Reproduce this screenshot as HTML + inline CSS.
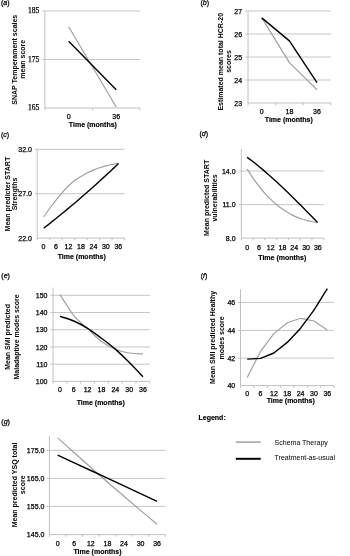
<!DOCTYPE html>
<html><head><meta charset="utf-8"><style>
html,body{margin:0;padding:0;background:#fff;width:350px;height:556px;overflow:hidden}
svg{display:block;filter:blur(0.3px)} text[font-weight="normal"]{stroke:#000;stroke-width:0.25px} text[font-weight="bold"][x]:not([transform]){stroke:#000;stroke-width:0.15px}
</style></head><body>
<svg width="350" height="556" viewBox="0 0 350 556">
<rect width="350" height="556" fill="#fff"/>
<text x="1.00" y="5.20" text-anchor="start" font-family="Liberation Sans" font-weight="normal" font-size="7" font-style="normal" fill="#000">(<tspan font-style="italic">a</tspan>)</text>
<line x1="44.90" y1="11.00" x2="44.90" y2="108.00" stroke="#c0c0c0" stroke-width="1"/>
<line x1="44.90" y1="11.00" x2="140.00" y2="11.00" stroke="#c6c6c6" stroke-width="1"/>
<line x1="42.40" y1="11.00" x2="44.90" y2="11.00" stroke="#c0c0c0" stroke-width="1"/>
<line x1="44.90" y1="59.50" x2="140.00" y2="59.50" stroke="#c6c6c6" stroke-width="1"/>
<line x1="42.40" y1="59.50" x2="44.90" y2="59.50" stroke="#c0c0c0" stroke-width="1"/>
<line x1="44.90" y1="108.00" x2="140.00" y2="108.00" stroke="#c0c0c0" stroke-width="1"/>
<line x1="44.90" y1="108.00" x2="44.90" y2="110.20" stroke="#c0c0c0" stroke-width="1"/>
<line x1="92.45" y1="108.00" x2="92.45" y2="110.20" stroke="#c0c0c0" stroke-width="1"/>
<line x1="140.00" y1="108.00" x2="140.00" y2="110.20" stroke="#c0c0c0" stroke-width="1"/>
<text x="39.30" y="13.30" text-anchor="end" font-family="Liberation Serif" font-weight="normal" font-size="7.5" font-style="normal" fill="#000">185</text>
<text x="39.30" y="61.80" text-anchor="end" font-family="Liberation Serif" font-weight="normal" font-size="7.5" font-style="normal" fill="#000">175</text>
<text x="39.30" y="110.30" text-anchor="end" font-family="Liberation Serif" font-weight="normal" font-size="7.5" font-style="normal" fill="#000">165</text>
<text x="68.67" y="118.80" text-anchor="middle" font-family="Liberation Sans" font-weight="normal" font-size="7" font-style="normal" fill="#000">0</text>
<text x="116.22" y="118.80" text-anchor="middle" font-family="Liberation Sans" font-weight="normal" font-size="7" font-style="normal" fill="#000">36</text>
<text x="92.90" y="127.10" text-anchor="middle" font-family="Liberation Sans" font-weight="bold" font-size="7" font-style="normal" fill="#000">Time (months)</text>
<text transform="translate(16.72,59.75) rotate(-90)" x="0" y="0" text-anchor="middle" font-family="Liberation Sans" font-weight="bold" font-size="7" fill="#000">SNAP Temperament scales</text>
<text transform="translate(25.22,59.25) rotate(-90)" x="0" y="0" text-anchor="middle" font-family="Liberation Sans" font-weight="bold" font-size="7" fill="#000">mean score</text>
<path d="M68.67,26.70 L116.22,107.00" fill="none" stroke="#a0a0a0" stroke-width="1.2" stroke-linejoin="round" stroke-linecap="butt"/>
<path d="M68.67,41.30 L116.22,89.70" fill="none" stroke="#000000" stroke-width="1.4" stroke-linejoin="round" stroke-linecap="butt"/>
<text x="200.50" y="5.00" text-anchor="start" font-family="Liberation Sans" font-weight="normal" font-size="7" font-style="normal" fill="#000">(<tspan font-style="italic">b</tspan>)</text>
<line x1="248.00" y1="11.00" x2="248.00" y2="103.00" stroke="#c0c0c0" stroke-width="1"/>
<line x1="248.00" y1="11.00" x2="330.80" y2="11.00" stroke="#c6c6c6" stroke-width="1"/>
<line x1="245.50" y1="11.00" x2="248.00" y2="11.00" stroke="#c0c0c0" stroke-width="1"/>
<line x1="248.00" y1="34.00" x2="330.80" y2="34.00" stroke="#c6c6c6" stroke-width="1"/>
<line x1="245.50" y1="34.00" x2="248.00" y2="34.00" stroke="#c0c0c0" stroke-width="1"/>
<line x1="248.00" y1="57.00" x2="330.80" y2="57.00" stroke="#c6c6c6" stroke-width="1"/>
<line x1="245.50" y1="57.00" x2="248.00" y2="57.00" stroke="#c0c0c0" stroke-width="1"/>
<line x1="248.00" y1="80.00" x2="330.80" y2="80.00" stroke="#c6c6c6" stroke-width="1"/>
<line x1="245.50" y1="80.00" x2="248.00" y2="80.00" stroke="#c0c0c0" stroke-width="1"/>
<line x1="248.00" y1="103.00" x2="330.80" y2="103.00" stroke="#c0c0c0" stroke-width="1"/>
<line x1="248.00" y1="103.00" x2="248.00" y2="105.20" stroke="#c0c0c0" stroke-width="1"/>
<line x1="275.60" y1="103.00" x2="275.60" y2="105.20" stroke="#c0c0c0" stroke-width="1"/>
<line x1="303.20" y1="103.00" x2="303.20" y2="105.20" stroke="#c0c0c0" stroke-width="1"/>
<line x1="330.80" y1="103.00" x2="330.80" y2="105.20" stroke="#c0c0c0" stroke-width="1"/>
<text x="242.10" y="13.50" text-anchor="end" font-family="Liberation Sans" font-weight="normal" font-size="7" font-style="normal" fill="#000">27</text>
<text x="242.10" y="36.50" text-anchor="end" font-family="Liberation Sans" font-weight="normal" font-size="7" font-style="normal" fill="#000">26</text>
<text x="242.10" y="59.50" text-anchor="end" font-family="Liberation Sans" font-weight="normal" font-size="7" font-style="normal" fill="#000">25</text>
<text x="242.10" y="82.50" text-anchor="end" font-family="Liberation Sans" font-weight="normal" font-size="7" font-style="normal" fill="#000">24</text>
<text x="242.10" y="105.50" text-anchor="end" font-family="Liberation Sans" font-weight="normal" font-size="7" font-style="normal" fill="#000">23</text>
<text x="261.80" y="113.50" text-anchor="middle" font-family="Liberation Sans" font-weight="normal" font-size="7" font-style="normal" fill="#000">0</text>
<text x="289.40" y="113.50" text-anchor="middle" font-family="Liberation Sans" font-weight="normal" font-size="7" font-style="normal" fill="#000">18</text>
<text x="317.00" y="113.50" text-anchor="middle" font-family="Liberation Sans" font-weight="normal" font-size="7" font-style="normal" fill="#000">36</text>
<text x="288.80" y="121.50" text-anchor="middle" font-family="Liberation Sans" font-weight="bold" font-size="7" font-style="normal" fill="#000">Time (months)</text>
<text transform="translate(223.42,61.80) rotate(-90)" x="0" y="0" text-anchor="middle" font-family="Liberation Sans" font-weight="bold" font-size="7" fill="#000">Estimated mean total HCR-20</text>
<text transform="translate(230.92,61.50) rotate(-90)" x="0" y="0" text-anchor="middle" font-family="Liberation Sans" font-weight="bold" font-size="7" fill="#000">scores</text>
<path d="M261.80,17.90 L289.40,62.60 L317.00,89.80" fill="none" stroke="#a0a0a0" stroke-width="1.2" stroke-linejoin="round" stroke-linecap="butt"/>
<path d="M261.80,17.90 L289.40,40.90 L317.00,82.70" fill="none" stroke="#000000" stroke-width="1.4" stroke-linejoin="round" stroke-linecap="butt"/>
<text x="1.00" y="136.50" text-anchor="start" font-family="Liberation Sans" font-weight="normal" font-size="7" font-style="normal" fill="#000">(<tspan font-style="italic">c</tspan>)</text>
<line x1="37.20" y1="149.30" x2="37.20" y2="238.10" stroke="#c0c0c0" stroke-width="1"/>
<line x1="37.20" y1="149.30" x2="124.60" y2="149.30" stroke="#c6c6c6" stroke-width="1"/>
<line x1="34.70" y1="149.30" x2="37.20" y2="149.30" stroke="#c0c0c0" stroke-width="1"/>
<line x1="37.20" y1="193.70" x2="124.60" y2="193.70" stroke="#c6c6c6" stroke-width="1"/>
<line x1="34.70" y1="193.70" x2="37.20" y2="193.70" stroke="#c0c0c0" stroke-width="1"/>
<line x1="37.20" y1="238.10" x2="124.60" y2="238.10" stroke="#c0c0c0" stroke-width="1"/>
<line x1="37.20" y1="238.10" x2="37.20" y2="240.30" stroke="#c0c0c0" stroke-width="1"/>
<line x1="49.69" y1="238.10" x2="49.69" y2="240.30" stroke="#c0c0c0" stroke-width="1"/>
<line x1="62.17" y1="238.10" x2="62.17" y2="240.30" stroke="#c0c0c0" stroke-width="1"/>
<line x1="74.66" y1="238.10" x2="74.66" y2="240.30" stroke="#c0c0c0" stroke-width="1"/>
<line x1="87.14" y1="238.10" x2="87.14" y2="240.30" stroke="#c0c0c0" stroke-width="1"/>
<line x1="99.63" y1="238.10" x2="99.63" y2="240.30" stroke="#c0c0c0" stroke-width="1"/>
<line x1="112.11" y1="238.10" x2="112.11" y2="240.30" stroke="#c0c0c0" stroke-width="1"/>
<line x1="124.60" y1="238.10" x2="124.60" y2="240.30" stroke="#c0c0c0" stroke-width="1"/>
<text x="31.90" y="151.80" text-anchor="end" font-family="Liberation Sans" font-weight="normal" font-size="7" font-style="normal" fill="#000">32.0</text>
<text x="31.90" y="196.20" text-anchor="end" font-family="Liberation Sans" font-weight="normal" font-size="7" font-style="normal" fill="#000">27.0</text>
<text x="31.90" y="240.60" text-anchor="end" font-family="Liberation Sans" font-weight="normal" font-size="7" font-style="normal" fill="#000">22.0</text>
<text x="43.44" y="248.50" text-anchor="middle" font-family="Liberation Sans" font-weight="normal" font-size="7" font-style="normal" fill="#000">0</text>
<text x="55.93" y="248.50" text-anchor="middle" font-family="Liberation Sans" font-weight="normal" font-size="7" font-style="normal" fill="#000">6</text>
<text x="68.41" y="248.50" text-anchor="middle" font-family="Liberation Sans" font-weight="normal" font-size="7" font-style="normal" fill="#000">12</text>
<text x="80.90" y="248.50" text-anchor="middle" font-family="Liberation Sans" font-weight="normal" font-size="7" font-style="normal" fill="#000">18</text>
<text x="93.39" y="248.50" text-anchor="middle" font-family="Liberation Sans" font-weight="normal" font-size="7" font-style="normal" fill="#000">24</text>
<text x="105.87" y="248.50" text-anchor="middle" font-family="Liberation Sans" font-weight="normal" font-size="7" font-style="normal" fill="#000">30</text>
<text x="118.36" y="248.50" text-anchor="middle" font-family="Liberation Sans" font-weight="normal" font-size="7" font-style="normal" fill="#000">36</text>
<text x="81.70" y="259.40" text-anchor="middle" font-family="Liberation Sans" font-weight="bold" font-size="7" font-style="normal" fill="#000">Time (months)</text>
<text transform="translate(9.72,194.10) rotate(-90)" x="0" y="0" text-anchor="middle" font-family="Liberation Sans" font-weight="bold" font-size="7" fill="#000">Mean predicter START</text>
<text transform="translate(16.62,194.00) rotate(-90)" x="0" y="0" text-anchor="middle" font-family="Liberation Sans" font-weight="bold" font-size="7" fill="#000">Strengths</text>
<path d="M43.70,216.80 C44.75,215.33 47.97,210.75 50.00,208.00 C52.03,205.25 53.90,202.83 55.90,200.30 C57.90,197.77 59.92,195.18 62.00,192.80 C64.08,190.42 66.30,188.03 68.40,186.00 C70.50,183.97 72.52,182.18 74.60,180.60 C76.68,179.02 78.83,177.77 80.90,176.50 C82.97,175.23 84.92,174.07 87.00,173.00 C89.08,171.93 91.30,170.97 93.40,170.10 C95.50,169.23 97.52,168.52 99.60,167.80 C101.68,167.08 103.83,166.35 105.90,165.80 C107.97,165.25 109.90,164.88 112.00,164.50 C114.10,164.12 117.42,163.67 118.50,163.50" fill="none" stroke="#a0a0a0" stroke-width="1.2" stroke-linejoin="round" stroke-linecap="butt"/>
<path d="M43.70,228.20 C44.37,227.68 46.37,226.13 47.70,225.08 C49.03,224.03 50.37,222.98 51.70,221.92 C53.03,220.86 54.37,219.80 55.70,218.73 C57.03,217.66 58.37,216.58 59.70,215.49 C61.03,214.41 62.37,213.32 63.70,212.22 C65.03,211.12 66.37,210.02 67.70,208.91 C69.03,207.80 70.37,206.68 71.70,205.56 C73.03,204.44 74.37,203.31 75.70,202.17 C77.03,201.04 78.37,199.89 79.70,198.74 C81.03,197.60 82.37,196.44 83.70,195.28 C85.03,194.12 86.37,192.95 87.70,191.78 C89.03,190.60 90.37,189.42 91.70,188.24 C93.03,187.05 94.37,185.85 95.70,184.66 C97.03,183.46 98.37,182.25 99.70,181.04 C101.03,179.82 102.37,178.61 103.70,177.38 C105.03,176.15 106.37,174.92 107.70,173.68 C109.03,172.45 110.37,171.20 111.70,169.95 C113.03,168.70 114.57,167.25 115.70,166.18 C116.83,165.10 118.03,163.95 118.50,163.50" fill="none" stroke="#000000" stroke-width="1.4" stroke-linejoin="round" stroke-linecap="butt"/>
<text x="199.40" y="136.00" text-anchor="start" font-family="Liberation Sans" font-weight="normal" font-size="7" font-style="normal" fill="#000">(<tspan font-style="italic">d</tspan>)</text>
<line x1="241.30" y1="149.00" x2="241.30" y2="238.10" stroke="#c0c0c0" stroke-width="1"/>
<line x1="241.30" y1="171.00" x2="323.70" y2="171.00" stroke="#c6c6c6" stroke-width="1"/>
<line x1="238.80" y1="171.00" x2="241.30" y2="171.00" stroke="#c0c0c0" stroke-width="1"/>
<line x1="241.30" y1="204.60" x2="323.70" y2="204.60" stroke="#c6c6c6" stroke-width="1"/>
<line x1="238.80" y1="204.60" x2="241.30" y2="204.60" stroke="#c0c0c0" stroke-width="1"/>
<line x1="241.30" y1="238.10" x2="323.70" y2="238.10" stroke="#c0c0c0" stroke-width="1"/>
<line x1="241.30" y1="238.10" x2="241.30" y2="240.30" stroke="#c0c0c0" stroke-width="1"/>
<line x1="253.07" y1="238.10" x2="253.07" y2="240.30" stroke="#c0c0c0" stroke-width="1"/>
<line x1="264.84" y1="238.10" x2="264.84" y2="240.30" stroke="#c0c0c0" stroke-width="1"/>
<line x1="276.61" y1="238.10" x2="276.61" y2="240.30" stroke="#c0c0c0" stroke-width="1"/>
<line x1="288.39" y1="238.10" x2="288.39" y2="240.30" stroke="#c0c0c0" stroke-width="1"/>
<line x1="300.16" y1="238.10" x2="300.16" y2="240.30" stroke="#c0c0c0" stroke-width="1"/>
<line x1="311.93" y1="238.10" x2="311.93" y2="240.30" stroke="#c0c0c0" stroke-width="1"/>
<line x1="323.70" y1="238.10" x2="323.70" y2="240.30" stroke="#c0c0c0" stroke-width="1"/>
<text x="235.60" y="173.50" text-anchor="end" font-family="Liberation Sans" font-weight="normal" font-size="7" font-style="normal" fill="#000">14.0</text>
<text x="235.60" y="207.10" text-anchor="end" font-family="Liberation Sans" font-weight="normal" font-size="7" font-style="normal" fill="#000">11.0</text>
<text x="235.60" y="240.60" text-anchor="end" font-family="Liberation Sans" font-weight="normal" font-size="7" font-style="normal" fill="#000">8.0</text>
<text x="247.19" y="249.50" text-anchor="middle" font-family="Liberation Sans" font-weight="normal" font-size="7" font-style="normal" fill="#000">0</text>
<text x="258.96" y="249.50" text-anchor="middle" font-family="Liberation Sans" font-weight="normal" font-size="7" font-style="normal" fill="#000">6</text>
<text x="270.73" y="249.50" text-anchor="middle" font-family="Liberation Sans" font-weight="normal" font-size="7" font-style="normal" fill="#000">12</text>
<text x="282.50" y="249.50" text-anchor="middle" font-family="Liberation Sans" font-weight="normal" font-size="7" font-style="normal" fill="#000">18</text>
<text x="294.27" y="249.50" text-anchor="middle" font-family="Liberation Sans" font-weight="normal" font-size="7" font-style="normal" fill="#000">24</text>
<text x="306.04" y="249.50" text-anchor="middle" font-family="Liberation Sans" font-weight="normal" font-size="7" font-style="normal" fill="#000">30</text>
<text x="317.81" y="249.50" text-anchor="middle" font-family="Liberation Sans" font-weight="normal" font-size="7" font-style="normal" fill="#000">36</text>
<text x="282.30" y="259.70" text-anchor="middle" font-family="Liberation Sans" font-weight="bold" font-size="7" font-style="normal" fill="#000">Time (months)</text>
<text transform="translate(209.12,197.90) rotate(-90)" x="0" y="0" text-anchor="middle" font-family="Liberation Sans" font-weight="bold" font-size="7" fill="#000">Mean predicted START</text>
<text transform="translate(216.92,198.00) rotate(-90)" x="0" y="0" text-anchor="middle" font-family="Liberation Sans" font-weight="bold" font-size="7" fill="#000">vulnerabilities</text>
<path d="M247.10,169.00 C247.94,170.31 250.46,174.36 252.14,176.84 C253.81,179.33 255.49,181.68 257.17,183.92 C258.85,186.15 260.53,188.26 262.21,190.26 C263.89,192.26 265.56,194.14 267.24,195.91 C268.92,197.69 270.60,199.35 272.28,200.91 C273.96,202.48 275.64,203.93 277.31,205.29 C278.99,206.66 280.67,207.92 282.35,209.09 C284.03,210.27 285.71,211.35 287.39,212.34 C289.06,213.34 290.74,214.25 292.42,215.09 C294.10,215.93 295.78,216.68 297.46,217.36 C299.14,218.05 300.81,218.66 302.49,219.20 C304.17,219.75 305.85,220.22 307.53,220.64 C309.21,221.07 310.89,221.42 312.56,221.72 C314.24,222.03 316.76,222.35 317.60,222.48" fill="none" stroke="#a0a0a0" stroke-width="1.2" stroke-linejoin="round" stroke-linecap="butt"/>
<path d="M247.10,157.29 C247.94,157.91 250.46,159.76 252.14,161.04 C253.81,162.33 255.49,163.65 257.17,165.00 C258.85,166.35 260.53,167.74 262.21,169.15 C263.89,170.56 265.56,172.00 267.24,173.46 C268.92,174.93 270.60,176.42 272.28,177.93 C273.96,179.45 275.64,180.99 277.31,182.54 C278.99,184.10 280.67,185.68 282.35,187.27 C284.03,188.87 285.71,190.48 287.39,192.11 C289.06,193.74 290.74,195.38 292.42,197.04 C294.10,198.69 295.78,200.36 297.46,202.03 C299.14,203.71 300.81,205.40 302.49,207.09 C304.17,208.78 305.85,210.48 307.53,212.18 C309.21,213.88 310.89,215.59 312.56,217.30 C314.24,219.01 316.76,221.57 317.60,222.42" fill="none" stroke="#000000" stroke-width="1.4" stroke-linejoin="round" stroke-linecap="butt"/>
<text x="1.30" y="277.80" text-anchor="start" font-family="Liberation Sans" font-weight="normal" font-size="7" font-style="normal" fill="#000">(<tspan font-style="italic">e</tspan>)</text>
<line x1="53.00" y1="287.60" x2="53.00" y2="381.40" stroke="#c0c0c0" stroke-width="1"/>
<line x1="53.00" y1="295.30" x2="149.90" y2="295.30" stroke="#c6c6c6" stroke-width="1"/>
<line x1="50.50" y1="295.30" x2="53.00" y2="295.30" stroke="#c0c0c0" stroke-width="1"/>
<line x1="53.00" y1="312.50" x2="149.90" y2="312.50" stroke="#c6c6c6" stroke-width="1"/>
<line x1="50.50" y1="312.50" x2="53.00" y2="312.50" stroke="#c0c0c0" stroke-width="1"/>
<line x1="53.00" y1="329.70" x2="149.90" y2="329.70" stroke="#c6c6c6" stroke-width="1"/>
<line x1="50.50" y1="329.70" x2="53.00" y2="329.70" stroke="#c0c0c0" stroke-width="1"/>
<line x1="53.00" y1="347.00" x2="149.90" y2="347.00" stroke="#c6c6c6" stroke-width="1"/>
<line x1="50.50" y1="347.00" x2="53.00" y2="347.00" stroke="#c0c0c0" stroke-width="1"/>
<line x1="53.00" y1="364.20" x2="149.90" y2="364.20" stroke="#c6c6c6" stroke-width="1"/>
<line x1="50.50" y1="364.20" x2="53.00" y2="364.20" stroke="#c0c0c0" stroke-width="1"/>
<line x1="53.00" y1="381.40" x2="149.90" y2="381.40" stroke="#c0c0c0" stroke-width="1"/>
<line x1="53.00" y1="381.40" x2="53.00" y2="383.60" stroke="#c0c0c0" stroke-width="1"/>
<line x1="66.84" y1="381.40" x2="66.84" y2="383.60" stroke="#c0c0c0" stroke-width="1"/>
<line x1="80.69" y1="381.40" x2="80.69" y2="383.60" stroke="#c0c0c0" stroke-width="1"/>
<line x1="94.53" y1="381.40" x2="94.53" y2="383.60" stroke="#c0c0c0" stroke-width="1"/>
<line x1="108.37" y1="381.40" x2="108.37" y2="383.60" stroke="#c0c0c0" stroke-width="1"/>
<line x1="122.21" y1="381.40" x2="122.21" y2="383.60" stroke="#c0c0c0" stroke-width="1"/>
<line x1="136.06" y1="381.40" x2="136.06" y2="383.60" stroke="#c0c0c0" stroke-width="1"/>
<line x1="149.90" y1="381.40" x2="149.90" y2="383.60" stroke="#c0c0c0" stroke-width="1"/>
<text x="47.50" y="297.80" text-anchor="end" font-family="Liberation Sans" font-weight="normal" font-size="7" font-style="normal" fill="#000">150</text>
<text x="47.50" y="315.00" text-anchor="end" font-family="Liberation Sans" font-weight="normal" font-size="7" font-style="normal" fill="#000">140</text>
<text x="47.50" y="332.20" text-anchor="end" font-family="Liberation Sans" font-weight="normal" font-size="7" font-style="normal" fill="#000">130</text>
<text x="47.50" y="349.50" text-anchor="end" font-family="Liberation Sans" font-weight="normal" font-size="7" font-style="normal" fill="#000">120</text>
<text x="47.50" y="366.70" text-anchor="end" font-family="Liberation Sans" font-weight="normal" font-size="7" font-style="normal" fill="#000">110</text>
<text x="47.50" y="383.90" text-anchor="end" font-family="Liberation Sans" font-weight="normal" font-size="7" font-style="normal" fill="#000">100</text>
<text x="59.92" y="392.00" text-anchor="middle" font-family="Liberation Sans" font-weight="normal" font-size="7" font-style="normal" fill="#000">0</text>
<text x="73.76" y="392.00" text-anchor="middle" font-family="Liberation Sans" font-weight="normal" font-size="7" font-style="normal" fill="#000">6</text>
<text x="87.61" y="392.00" text-anchor="middle" font-family="Liberation Sans" font-weight="normal" font-size="7" font-style="normal" fill="#000">12</text>
<text x="101.45" y="392.00" text-anchor="middle" font-family="Liberation Sans" font-weight="normal" font-size="7" font-style="normal" fill="#000">18</text>
<text x="115.29" y="392.00" text-anchor="middle" font-family="Liberation Sans" font-weight="normal" font-size="7" font-style="normal" fill="#000">24</text>
<text x="129.14" y="392.00" text-anchor="middle" font-family="Liberation Sans" font-weight="normal" font-size="7" font-style="normal" fill="#000">30</text>
<text x="142.98" y="392.00" text-anchor="middle" font-family="Liberation Sans" font-weight="normal" font-size="7" font-style="normal" fill="#000">36</text>
<text x="100.70" y="404.50" text-anchor="middle" font-family="Liberation Sans" font-weight="bold" font-size="7" font-style="normal" fill="#000">Time (months)</text>
<text transform="translate(10.42,336.90) rotate(-90)" x="0" y="0" text-anchor="middle" font-family="Liberation Sans" font-weight="bold" font-size="7" fill="#000">Mean SMI predicted</text>
<text transform="translate(18.92,336.90) rotate(-90)" x="0" y="0" text-anchor="middle" font-family="Liberation Sans" font-weight="bold" font-size="7" fill="#000">Maladaptive modes score</text>
<path d="M60.00,294.70 C61.17,296.50 64.70,302.02 67.00,305.50 C69.30,308.98 71.52,312.75 73.80,315.60 C76.08,318.45 78.38,320.43 80.70,322.60 C83.02,324.77 84.23,325.43 87.70,328.60 C91.17,331.77 96.90,338.17 101.50,341.60 C106.10,345.03 110.68,347.30 115.30,349.20 C119.92,351.10 124.58,352.22 129.20,353.00 C133.82,353.78 140.70,353.75 143.00,353.90" fill="none" stroke="#a0a0a0" stroke-width="1.2" stroke-linejoin="round" stroke-linecap="butt"/>
<path d="M59.92,316.40 C62.23,317.17 69.15,319.02 73.76,321.00 C78.38,322.98 82.99,325.43 87.61,328.30 C92.22,331.17 96.84,334.73 101.45,338.20 C106.06,341.67 110.68,345.08 115.29,349.10 C119.91,353.12 124.52,357.68 129.14,362.30 C133.75,366.92 140.67,374.38 142.98,376.80" fill="none" stroke="#000000" stroke-width="1.4" stroke-linejoin="round" stroke-linecap="butt"/>
<text x="200.70" y="277.70" text-anchor="start" font-family="Liberation Sans" font-weight="normal" font-size="7" font-style="normal" fill="#000">(<tspan font-style="italic">f</tspan>)</text>
<line x1="240.50" y1="289.30" x2="240.50" y2="385.60" stroke="#c0c0c0" stroke-width="1"/>
<line x1="240.50" y1="302.40" x2="334.00" y2="302.40" stroke="#c6c6c6" stroke-width="1"/>
<line x1="238.00" y1="302.40" x2="240.50" y2="302.40" stroke="#c0c0c0" stroke-width="1"/>
<line x1="240.50" y1="330.40" x2="334.00" y2="330.40" stroke="#c6c6c6" stroke-width="1"/>
<line x1="238.00" y1="330.40" x2="240.50" y2="330.40" stroke="#c0c0c0" stroke-width="1"/>
<line x1="240.50" y1="358.10" x2="334.00" y2="358.10" stroke="#c6c6c6" stroke-width="1"/>
<line x1="238.00" y1="358.10" x2="240.50" y2="358.10" stroke="#c0c0c0" stroke-width="1"/>
<line x1="240.50" y1="385.60" x2="334.00" y2="385.60" stroke="#c0c0c0" stroke-width="1"/>
<line x1="240.50" y1="385.60" x2="240.50" y2="387.80" stroke="#c0c0c0" stroke-width="1"/>
<line x1="253.86" y1="385.60" x2="253.86" y2="387.80" stroke="#c0c0c0" stroke-width="1"/>
<line x1="267.21" y1="385.60" x2="267.21" y2="387.80" stroke="#c0c0c0" stroke-width="1"/>
<line x1="280.57" y1="385.60" x2="280.57" y2="387.80" stroke="#c0c0c0" stroke-width="1"/>
<line x1="293.93" y1="385.60" x2="293.93" y2="387.80" stroke="#c0c0c0" stroke-width="1"/>
<line x1="307.29" y1="385.60" x2="307.29" y2="387.80" stroke="#c0c0c0" stroke-width="1"/>
<line x1="320.64" y1="385.60" x2="320.64" y2="387.80" stroke="#c0c0c0" stroke-width="1"/>
<line x1="334.00" y1="385.60" x2="334.00" y2="387.80" stroke="#c0c0c0" stroke-width="1"/>
<text x="235.20" y="304.90" text-anchor="end" font-family="Liberation Sans" font-weight="normal" font-size="7" font-style="normal" fill="#000">46</text>
<text x="235.20" y="332.90" text-anchor="end" font-family="Liberation Sans" font-weight="normal" font-size="7" font-style="normal" fill="#000">44</text>
<text x="235.20" y="360.60" text-anchor="end" font-family="Liberation Sans" font-weight="normal" font-size="7" font-style="normal" fill="#000">42</text>
<text x="235.20" y="388.10" text-anchor="end" font-family="Liberation Sans" font-weight="normal" font-size="7" font-style="normal" fill="#000">40</text>
<text x="247.18" y="396.10" text-anchor="middle" font-family="Liberation Sans" font-weight="normal" font-size="7" font-style="normal" fill="#000">0</text>
<text x="260.54" y="396.10" text-anchor="middle" font-family="Liberation Sans" font-weight="normal" font-size="7" font-style="normal" fill="#000">6</text>
<text x="273.89" y="396.10" text-anchor="middle" font-family="Liberation Sans" font-weight="normal" font-size="7" font-style="normal" fill="#000">12</text>
<text x="287.25" y="396.10" text-anchor="middle" font-family="Liberation Sans" font-weight="normal" font-size="7" font-style="normal" fill="#000">18</text>
<text x="300.61" y="396.10" text-anchor="middle" font-family="Liberation Sans" font-weight="normal" font-size="7" font-style="normal" fill="#000">24</text>
<text x="313.96" y="396.10" text-anchor="middle" font-family="Liberation Sans" font-weight="normal" font-size="7" font-style="normal" fill="#000">30</text>
<text x="327.32" y="396.10" text-anchor="middle" font-family="Liberation Sans" font-weight="normal" font-size="7" font-style="normal" fill="#000">36</text>
<text x="290.70" y="403.00" text-anchor="middle" font-family="Liberation Sans" font-weight="bold" font-size="7" font-style="normal" fill="#000">Time (months)</text>
<text transform="translate(215.42,337.40) rotate(-90)" x="0" y="0" text-anchor="middle" font-family="Liberation Sans" font-weight="bold" font-size="7" fill="#000">Mean SMI predicted Healthy</text>
<text transform="translate(223.52,337.90) rotate(-90)" x="0" y="0" text-anchor="middle" font-family="Liberation Sans" font-weight="bold" font-size="7" fill="#000">modes score</text>
<path d="M247.18,377.60 L260.54,351.40 L273.89,333.60 L287.25,322.80 L300.61,318.30 L313.96,321.00 L327.32,330.00" fill="none" stroke="#a0a0a0" stroke-width="1.2" stroke-linejoin="round" stroke-linecap="butt"/>
<path d="M247.18,359.10 L260.54,358.40 L273.89,353.00 L287.25,342.40 L300.61,328.20 L313.96,310.20 L327.32,288.60" fill="none" stroke="#000000" stroke-width="1.4" stroke-linejoin="round" stroke-linecap="butt"/>
<text x="1.30" y="423.70" text-anchor="start" font-family="Liberation Sans" font-weight="normal" font-size="7" font-style="normal" fill="#000">(<tspan font-style="italic">g</tspan>)</text>
<line x1="49.40" y1="435.90" x2="49.40" y2="534.60" stroke="#c0c0c0" stroke-width="1"/>
<line x1="49.40" y1="450.30" x2="165.40" y2="450.30" stroke="#c6c6c6" stroke-width="1"/>
<line x1="46.90" y1="450.30" x2="49.40" y2="450.30" stroke="#c0c0c0" stroke-width="1"/>
<line x1="49.40" y1="478.40" x2="165.40" y2="478.40" stroke="#c6c6c6" stroke-width="1"/>
<line x1="46.90" y1="478.40" x2="49.40" y2="478.40" stroke="#c0c0c0" stroke-width="1"/>
<line x1="49.40" y1="506.40" x2="165.40" y2="506.40" stroke="#c6c6c6" stroke-width="1"/>
<line x1="46.90" y1="506.40" x2="49.40" y2="506.40" stroke="#c0c0c0" stroke-width="1"/>
<line x1="49.40" y1="534.60" x2="165.40" y2="534.60" stroke="#c0c0c0" stroke-width="1"/>
<line x1="49.40" y1="534.60" x2="49.40" y2="536.80" stroke="#c0c0c0" stroke-width="1"/>
<line x1="65.97" y1="534.60" x2="65.97" y2="536.80" stroke="#c0c0c0" stroke-width="1"/>
<line x1="82.54" y1="534.60" x2="82.54" y2="536.80" stroke="#c0c0c0" stroke-width="1"/>
<line x1="99.11" y1="534.60" x2="99.11" y2="536.80" stroke="#c0c0c0" stroke-width="1"/>
<line x1="115.69" y1="534.60" x2="115.69" y2="536.80" stroke="#c0c0c0" stroke-width="1"/>
<line x1="132.26" y1="534.60" x2="132.26" y2="536.80" stroke="#c0c0c0" stroke-width="1"/>
<line x1="148.83" y1="534.60" x2="148.83" y2="536.80" stroke="#c0c0c0" stroke-width="1"/>
<line x1="165.40" y1="534.60" x2="165.40" y2="536.80" stroke="#c0c0c0" stroke-width="1"/>
<text x="44.40" y="452.80" text-anchor="end" font-family="Liberation Sans" font-weight="normal" font-size="7" font-style="normal" fill="#000">175.0</text>
<text x="44.40" y="480.90" text-anchor="end" font-family="Liberation Sans" font-weight="normal" font-size="7" font-style="normal" fill="#000">165.0</text>
<text x="44.40" y="508.90" text-anchor="end" font-family="Liberation Sans" font-weight="normal" font-size="7" font-style="normal" fill="#000">155.0</text>
<text x="44.40" y="537.10" text-anchor="end" font-family="Liberation Sans" font-weight="normal" font-size="7" font-style="normal" fill="#000">145.0</text>
<text x="57.69" y="545.50" text-anchor="middle" font-family="Liberation Sans" font-weight="normal" font-size="7" font-style="normal" fill="#000">0</text>
<text x="74.26" y="545.50" text-anchor="middle" font-family="Liberation Sans" font-weight="normal" font-size="7" font-style="normal" fill="#000">6</text>
<text x="90.83" y="545.50" text-anchor="middle" font-family="Liberation Sans" font-weight="normal" font-size="7" font-style="normal" fill="#000">12</text>
<text x="107.40" y="545.50" text-anchor="middle" font-family="Liberation Sans" font-weight="normal" font-size="7" font-style="normal" fill="#000">18</text>
<text x="123.97" y="545.50" text-anchor="middle" font-family="Liberation Sans" font-weight="normal" font-size="7" font-style="normal" fill="#000">24</text>
<text x="140.54" y="545.50" text-anchor="middle" font-family="Liberation Sans" font-weight="normal" font-size="7" font-style="normal" fill="#000">30</text>
<text x="157.11" y="545.50" text-anchor="middle" font-family="Liberation Sans" font-weight="normal" font-size="7" font-style="normal" fill="#000">36</text>
<text x="97.50" y="554.00" text-anchor="middle" font-family="Liberation Sans" font-weight="bold" font-size="7" font-style="normal" fill="#000">Time (months)</text>
<text transform="translate(17.42,485.00) rotate(-90)" x="0" y="0" text-anchor="middle" font-family="Liberation Sans" font-weight="bold" font-size="7" fill="#000">Mean predicted YSQ total</text>
<text transform="translate(25.32,484.80) rotate(-90)" x="0" y="0" text-anchor="middle" font-family="Liberation Sans" font-weight="bold" font-size="7" fill="#000">score</text>
<path d="M57.69,437.90 L74.26,452.80 L90.83,467.50 L107.40,482.00 L123.97,496.30 L140.54,510.40 L157.11,524.20" fill="none" stroke="#a0a0a0" stroke-width="1.2" stroke-linejoin="round" stroke-linecap="butt"/>
<path d="M57.69,455.20 L74.26,462.90 L90.83,470.50 L107.40,478.20 L123.97,485.90 L140.54,493.60 L157.11,501.30" fill="none" stroke="#000000" stroke-width="1.4" stroke-linejoin="round" stroke-linecap="butt"/>
<text x="198.50" y="420.40" text-anchor="start" font-family="Liberation Sans" font-weight="bold" font-size="7" font-style="normal" fill="#000">Legend:</text>
<line x1="235.80" y1="442.10" x2="260.70" y2="442.10" stroke="#b0b0b0" stroke-width="1.8"/>
<line x1="235.80" y1="458.80" x2="260.70" y2="458.80" stroke="#000000" stroke-width="2"/>
<text x="274.60" y="444.60" text-anchor="start" font-family="Liberation Sans" font-weight="400" font-size="7" font-style="normal" fill="#000">Schema Therapy</text>
<text x="274.60" y="460.20" text-anchor="start" font-family="Liberation Sans" font-weight="400" font-size="7" font-style="normal" fill="#000">Treatment-as-usual</text>
</svg>
</body></html>
